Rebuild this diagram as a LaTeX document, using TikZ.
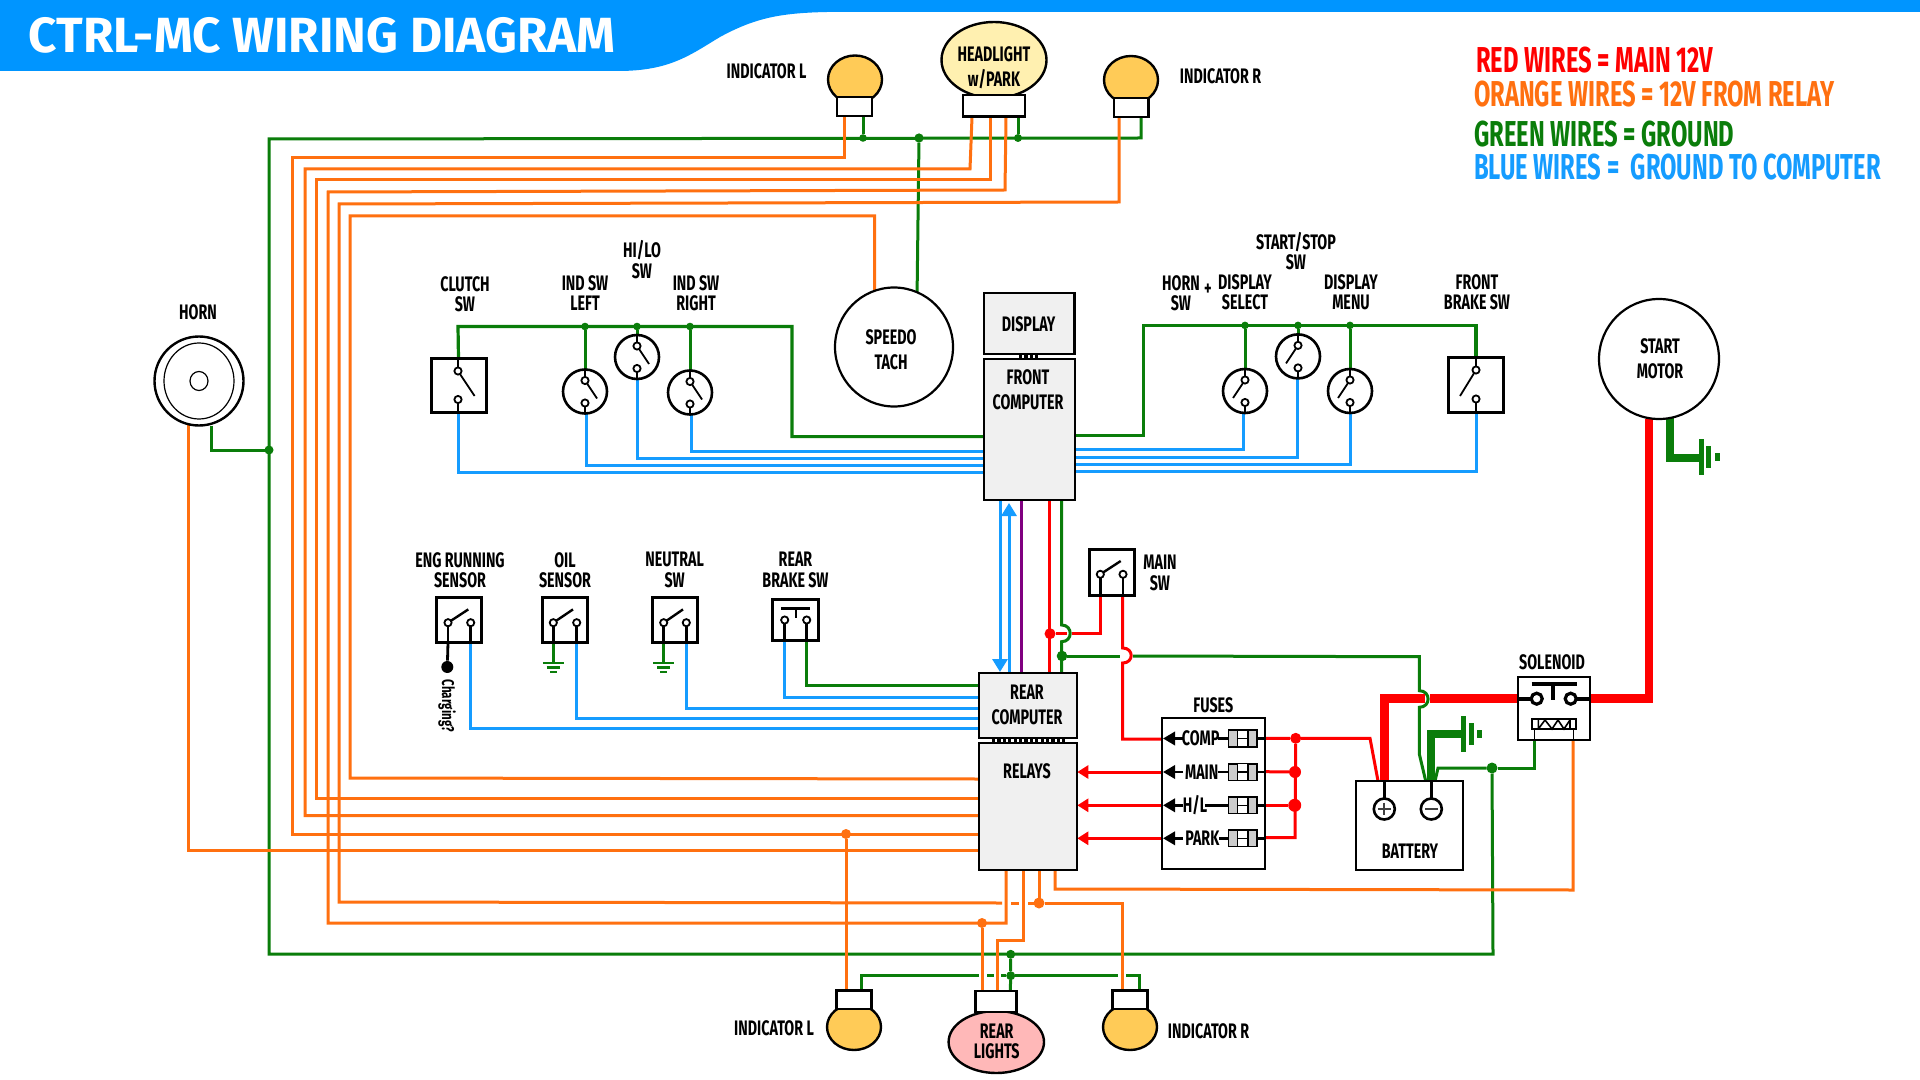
\documentclass[tikz,border=0pt]{standalone}
\usepackage{fontspec}
\setmainfont{Fira Sans}
\newfontfamily\din[FakeStretch=0.68]{Fira Sans}
\newfontfamily\dinT[FakeStretch=1.0]{Fira Sans}
\newfontfamily\dinL[FakeStretch=0.66]{Fira Sans}
\usetikzlibrary{shapes.geometric,arrows.meta,backgrounds}
\definecolor{cO}{HTML}{FF7010}
\definecolor{cG}{HTML}{0A7D0A}
\definecolor{cB}{HTML}{159CFF}
\definecolor{cR}{HTML}{FF0000}
\definecolor{cP}{HTML}{800080}
\definecolor{hdr}{HTML}{0095FF}
\definecolor{pan}{HTML}{F0F0F0}
\definecolor{bAmb}{HTML}{FFCB57}
\definecolor{bCrm}{HTML}{FFF0B0}
\definecolor{bPnk}{HTML}{FFB8B8}
\definecolor{fGry}{HTML}{CCCCCC}
\tikzset{
 wO/.style={draw=cO,line width=1.5pt,line join=miter},
 wOt/.style={draw=cO,line width=1.15pt},
 wG/.style={draw=cG,line width=1.5pt},
 wGk/.style={draw=cG,line width=3.6pt},
 wB/.style={draw=cB,line width=1.5pt},
 wR/.style={draw=cR,line width=1.5pt},
 wRk/.style={draw=cR,line width=4.4pt},
 wK/.style={draw=black,line width=1.4pt},
 gnd/.style={draw=cG,line width=2.5pt},
 gnds/.style={draw=cG,line width=1.3pt},
 bxk/.style={rectangle,draw=black,line width=1.5pt,inner sep=0,outer sep=0,fill=white},
 bxt/.style={rectangle,draw=black,line width=1.1pt,inner sep=0,outer sep=0,fill=white},
 bxp/.style={rectangle,draw=black,line width=1.1pt,inner sep=0,outer sep=0,fill=pan},
 skt/.style={rectangle,draw=black,line width=1.4pt,inner sep=0,outer sep=0,fill=white},
 bulb/.style={ellipse,draw=black,line width=1.2pt,inner sep=0,outer sep=0,fill=#1},
 ctc/.style={circle,draw=black,line width=.9pt,fill=white,inner sep=0,outer sep=0,minimum size=3.6pt},
 rnd/.style={circle,draw=black,line width=1.3pt,fill=white,inner sep=0,outer sep=0,minimum size=22pt},
 dt/.style={circle,fill=#1,inner sep=0,outer sep=0,minimum size=3.8pt},
 lbl/.style={font=\din\bfseries\fontsize{10.5}{10.25}\selectfont,align=center,inner sep=0,outer sep=0},
 lblw/.style={font=\din\bfseries\fontsize{10.5}{12.5}\selectfont,align=center,inner sep=0,outer sep=0},
 leg/.style={font=\dinL\bfseries\fontsize{18}{18}\selectfont,anchor=west,inner sep=0,outer sep=0},
}
\newcommand\bx[6]{\node[#6,minimum width={((#4)-(#2))*.5pt},minimum height={((#5)-(#3))*.5pt},anchor=north west] (#1) at (#2,#3) {};}
\newcommand\el[6]{\node[#6,minimum width={#4*1pt},minimum height={#5*1pt}] (#1) at (#2,#3) {};}
% round switch: name, cx, cy, lever dx
\newcommand\roundsw[4]{\node[rnd] (#1) at (#2,#3) {};
 \draw[black,line width=1.1pt] (#2,#3-22) -- (#2,#3-11) (#2,#3+11.5) -- (#2,#3+22);
 \draw[black,line width=.9pt] (#2,#3-11) -- (#2+#4,#3+7);
 \node[ctc] (#1a) at (#2,#3-11) {};\node[ctc] (#1b) at (#2,#3+11.5) {};}
% open box switch: name,x1,x2,y1,y2,cx1,cx2,cy,levx
\newcommand\opensw[9]{\bx{#1}{#2}{#4}{#3}{#5}{bxk}
 \draw[wK] (#6,#8) -- (#6,#5);\draw[wK] (#7,#8) -- (#7,#5);
 \draw[black,line width=1.2pt] (#6,#8) -- (#9,#8-13.3);
 \node[ctc] (#1a) at (#6,#8) {};\node[ctc] (#1b) at (#7,#8) {};}
% fuse row: name,y,label,label x,line start
\newcommand\fuserow[5]{\draw[black,line width=1.4pt,-{Triangle[length=6pt,width=6.6pt]}] (1183,#2) -- (1163,#2);
 \node[lbl] (#1t) at (#4,#2) {#3};
 \draw[black,line width=1.4pt] (#5,#2) -- (1228,#2);\draw[black,line width=1.4pt] (1256,#2) -- (1265,#2);
 \bx{#1}{1228.3}{#2-8.3}{1256.7}{#2+8.3}{rectangle,draw=black,line width=.8pt,inner sep=0,outer sep=0,fill=fGry}
 \fill[white] (1237.3,#2-7.8) rectangle (1247.7,#2+7.8);
 \draw[black,line width=.8pt] (1237.3,#2-8.3) -- (1237.3,#2+8.3) (1247.7,#2-8.3) -- (1247.7,#2+8.3) (1237.3,#2) -- (1247.7,#2);}
\newcommand\gndsym[2]{\draw[gnds] (#1-10.5,#2) -- (#1+10.5,#2) (#1-6.6,#2+4.7) -- (#1+6.6,#2+4.7) (#1-3.3,#2+9) -- (#1+3.3,#2+9);}
\begin{document}
\begin{tikzpicture}[x=0.5pt,y=-0.5pt]
\useasboundingbox (0,0) rectangle (1920,1080);
% header
\fill[hdr] (0,0) -- (1920,0) -- (1920,12) -- (827,12) .. controls (780,13) and (755,18) .. (720,37) .. controls (690,55) and (670,71) .. (618,71) -- (0,71) -- cycle;
\node[font=\dinT\bfseries\fontsize{24.7}{24.7}\selectfont,text=white,anchor=west,inner sep=0] (title) at (28,35.5) {CTRL-MC WIRING DIAGRAM};
% legend
\node[leg,text=cR] (l1) at (1476,60) {RED WIRES = MAIN 12V};
\node[leg,text=cO] (l2) at (1474,94) {ORANGE WIRES = 12V FROM RELAY};
\node[leg,text=cG] (l3) at (1474,134) {GREEN WIRES = GROUND};
\node[leg,text=cB] (l4) at (1474,167) {BLUE WIRES = \ GROUND TO COMPUTER};
% headlight + indicators top
\el{headl}{994}{60}{52.5}{38}{bulb=bCrm}
\bx{headS}{963}{95}{1025}{116.5}{skt}
\node[lblw] (headT) at (994,67.5) {HEADLIGHT\\w/PARK};
\el{iLb}{855}{79.5}{27}{24}{bulb=bAmb}
\bx{iLs}{837}{97}{872}{116}{skt}
\el{iRb}{1131}{80}{27}{24}{bulb=bAmb}
\bx{iRs}{1114}{98}{1148.5}{117}{skt}
\node[lbl] (iLt) at (766.5,71.5) {INDICATOR L};
\node[lbl] (iRt) at (1220.5,76) {INDICATOR R};
% horn
\el{horn}{199}{381}{44.5}{44.5}{ellipse,draw=black,line width=1.2pt,fill=white,inner sep=0,outer sep=0}
\el{horn2}{199}{381}{35}{38}{ellipse,draw=black,line width=.6pt,inner sep=0,outer sep=0}
\el{horn3}{199}{381}{9}{9.5}{ellipse,draw=black,line width=.6pt,inner sep=0,outer sep=0}
\node[lbl] (hornT) at (198,312) {HORN};
% speedo, motor
\el{speedo}{894}{347}{59}{59.5}{ellipse,draw=black,line width=1.1pt,fill=white,inner sep=0,outer sep=0}
\node[lblw] (speedoT) at (891,349.5) {SPEEDO\\TACH};
\el{motor}{1659}{359}{60}{60}{ellipse,draw=black,line width=1.1pt,fill=white,inner sep=0,outer sep=0}
\node[lblw] (motorT) at (1660,358.5) {START\\MOTOR};
% left switches
\bx{clutch}{431}{359}{486}{412.5}{bxk}
\draw[black,line width=1.1pt] (458,359) -- (458,371) (458,399.5) -- (458,412.5);
\draw[black,line width=.9pt] (458,371) -- (474.6,396);
\node[ctc] (clutcha) at (458,371) {};\node[ctc] (clutchb) at (458,399.5) {};
\roundsw{indl}{585}{391.5}{12}
\roundsw{hilo}{637}{357}{12}
\roundsw{indr}{690}{392.5}{12}
\node[lbl] (clutchT) at (465,294) {CLUTCH\\SW};
\node[lbl] (indlT) at (585,293) {IND SW\\LEFT};
\node[lbl] (hiloT) at (642,259.5) {HI/LO\\SW};
\node[lbl] (indrT) at (696,293) {IND SW\\RIGHT};
% right switches
\roundsw{ds}{1245}{391}{-12}
\roundsw{ss}{1298}{356.4}{-12}
\roundsw{dm}{1350}{391}{-12}
\bx{fb}{1448.7}{358}{1503.8}{412}{bxk}
\draw[black,line width=1.1pt] (1476,358) -- (1476,370) (1476,399) -- (1476,412);
\draw[black,line width=.9pt] (1476,370) -- (1460,396);
\node[ctc] (fba) at (1476,370) {};\node[ctc] (fbb) at (1476,399) {};
\node[lbl] (hornswT) at (1181,293) {HORN\\SW};
\node[lbl] (plusT) at (1208,290) {+};
\node[lbl] (dsT) at (1245,292) {DISPLAY\\SELECT};
\node[lbl] (ssT) at (1296,251) {START/STOP\\SW};
\node[lbl] (dmT) at (1351,292) {DISPLAY\\MENU};
\node[lbl] (fbT) at (1477,292) {FRONT\\BRAKE SW};
% computers
\draw[black,line width=2.4pt,dash pattern=on 1.6pt off 1.1pt] (1019,356.5) -- (1040,356.5);
\bx{disp}{984}{293}{1074.5}{354}{bxp}
\node[lbl] (dispT) at (1028.6,324) {DISPLAY};
\bx{front}{984}{359}{1075}{500}{bxp}
\node[lblw] (frontT) at (1028,390) {FRONT\\COMPUTER};
\draw[black,line width=2.4pt,dash pattern=on 1.6pt off 1.1pt] (992,740.8) -- (1065,740.8);
\bx{rear}{979}{673.3}{1077.3}{738.3}{bxp}
\node[lblw] (rearT) at (1027,704.5) {REAR\\COMPUTER};
\bx{relays}{979}{743.3}{1077.3}{870}{bxp}
\node[lbl] (relaysT) at (1027,771) {RELAYS};
% lower switches
\node[lbl] (engT) at (460,570) {ENG RUNNING\\SENSOR};
\opensw{eng}{436.7}{481.3}{597.7}{642.7}{448}{470.7}{622.7}{468.3}
\node[circle,fill=black,inner sep=0,minimum size=6pt] (engD) at (447.3,667) {};
\node[font=\din\bfseries\fontsize{8.5}{8.5}\selectfont,rotate=-90,inner sep=0] (engC) at (447,705.7) {Charging?};
\node[lbl] (oilT) at (565,570) {OIL\\SENSOR};
\opensw{oil}{542.3}{587}{597.7}{642.7}{553.3}{576.7}{622.7}{573}
\node[lbl] (neuT) at (674.7,570) {NEUTRAL\\SW};
\opensw{neu}{652.3}{697}{597.7}{642.7}{663.7}{686.3}{622.7}{683}
\node[lbl] (rbT) at (795.5,570) {REAR\\BRAKE SW};
\bx{rb}{772.3}{599.3}{818.7}{640.7}{bxk}
\draw[wK] (784.7,620) -- (784.7,640.7) (806.7,620) -- (806.7,640.7);
\draw[black,line width=1.2pt] (781,608.3) -- (810,608.3) (796,608.3) -- (796,618);
\node[ctc] (rba) at (784.7,620) {};\node[ctc] (rbb) at (806.7,620) {};
\opensw{msw}{1089}{1134}{549.3}{595}{1100.3}{1123}{574.3}{1120.7}
\node[lbl] (mswT) at (1160,573) {MAIN\\SW};
% fuses
\node[lbl] (fusesT) at (1213.3,705) {FUSES};
\bx{fuses}{1161.7}{717.7}{1265}{869.3}{bxt}
\fuserow{f1}{738.5}{COMP}{1200.7}{1217.7}
\fuserow{f2}{772}{MAIN}{1201.7}{1217.7}
\fuserow{f3}{805.3}{H/L}{1195}{1205}
\fuserow{f4}{838.3}{PARK}{1202.3}{1219}
% battery
\bx{batt}{1356}{781}{1462.7}{870}{bxt}
\draw[wK] (1384.3,781) -- (1384.3,798) (1431.3,781) -- (1431.3,798);
\node[circle,draw=black,line width=1.3pt,fill=white,inner sep=0,minimum size=10.5pt] (bp) at (1384.3,809) {};
\node[circle,draw=black,line width=1.3pt,fill=white,inner sep=0,minimum size=10.5pt] (bm) at (1431.3,809) {};
\draw[black!75,line width=1pt] (1378,809) -- (1390.6,809) (1384.3,802.7) -- (1384.3,815.3) (1425,809) -- (1437.6,809);
\node[lbl] (battT) at (1410,851.7) {BATTERY};
% solenoid
\node[lbl] (solT) at (1552,662.7) {SOLENOID};
\bx{sol}{1517.7}{677.3}{1590}{740}{bxt}
\draw[black,line width=2pt] (1517.7,698.7) -- (1531,698.7) (1576,698.7) -- (1590,698.7) (1531.7,684.3) -- (1576.7,684.3);
\draw[black,line width=2pt] (1553.3,684.3) -- (1553.3,700);
\node[circle,draw=black,line width=1.6pt,fill=white,inner sep=0,minimum size=5.5pt] (sa) at (1536.7,698.7) {};
\node[circle,draw=black,line width=1.6pt,fill=white,inner sep=0,minimum size=5.5pt] (sb) at (1570.7,698.7) {};
\bx{coil}{1531.7}{719}{1576}{729}{rectangle,draw=black,line width=.8pt,inner sep=0,outer sep=0,fill=white}
\draw[black,line width=.8pt] (1538.3,719) -- (1538.3,729) (1570,719) -- (1570,729) (1538.3,729) -- (1545,720) -- (1552,729) -- (1558,720) -- (1564,729) -- (1570,720);
\draw[black,line width=.8pt] (1534.3,729) -- (1534.3,740) (1573.3,729) -- (1573.3,740);
% rear lights
\el{iLrb}{854}{1027}{27}{23}{bulb=bAmb}
\bx{iLrs}{836.7}{990.7}{871.7}{1009}{skt}
\el{rlb}{996.3}{1042}{47.7}{31}{bulb=bPnk}
\bx{rls}{975.7}{991}{1016.7}{1012}{skt}
\node[lbl] (rlT) at (996.7,1041.5) {REAR\\LIGHTS};
\el{iRrb}{1130}{1027}{27}{23}{bulb=bAmb}
\bx{iRrs}{1112.7}{990.7}{1147.3}{1009}{skt}
\node[lbl] (iLrT) at (774,1028) {INDICATOR L};
\node[lbl] (iRrT) at (1208.5,1031.7) {INDICATOR R};
% junction dots
\node[dt=cG] (jg1) at (863,138) {};
\node[dt=cG,minimum size=4.6pt] (jg2) at (919,138) {};
\node[dt=cG,minimum size=4pt] (jg3) at (1018,138) {};
\node[dt=cG,minimum size=4.5pt] (jg4) at (269,450) {};
\node[dt=cG] (jg5) at (585,326.5) {};
\node[dt=cG] (jg6) at (637,326.5) {};
\node[dt=cG] (jg7) at (690,326.5) {};
\node[dt=cG] (jg8) at (1245,325.4) {};
\node[dt=cG] (jg9) at (1298,325.4) {};
\node[dt=cG] (jg10) at (1350,325.4) {};
\node[dt=cG,minimum size=5.3pt] (jg11) at (1062,656) {};
\node[dt=cG,minimum size=5.5pt] (jg12) at (1492,768) {};
\node[dt=cG,minimum size=4.5pt] (jg13) at (1010.7,954.3) {};
\node[dt=cG,minimum size=4.5pt] (jg14) at (1010.7,975.7) {};
\node[dt=cR,minimum size=5.5pt] (jr1) at (1050,633.7) {};
\node[dt=cR,minimum size=5.5pt] (jr2) at (1295.7,738.3) {};
\node[dt=cR,minimum size=6pt] (jr3) at (1295,772) {};
\node[dt=cR,minimum size=6.5pt] (jr4) at (1294.7,805.3) {};
\node[dt=cO,minimum size=5pt] (jo1) at (846,834) {};
\node[dt=cO,minimum size=5pt] (jo2) at (982,923) {};
\node[dt=cO,minimum size=5.5pt] (jo3) at (1039,903) {};
% ground symbols
\gndsym{553.3}{663}
\gndsym{663.7}{663}
\draw[gnd] (1701,439) -- (1701,474.5) (1708.5,446) -- (1708.5,467.6) (1717,453) -- (1717,460.7);
\draw[gnd] (1463,716) -- (1463,751.7) (1471.7,723.3) -- (1471.7,745) (1479.3,730) -- (1479.3,738.3);
\begin{scope}[on background layer]
\fill[white] (0,0) rectangle (1920,1080);
% green main bus
\draw[wG] (iRs.south -| 1141,0) -- (1141,138) -- (269,139) -- (269,954) -- (1493,954) -- (jg12);
\draw[wG] (iLs.south -| jg1) -- (jg1);
\draw[wG] (headS.south -| jg3) -- (jg3);
\draw[wG] (jg2) -- (917,300);
\draw[wG] (horn.south -| 211,0) -- (211,450) -- (jg4);
\draw[wG] (coil.south -| 1534,0) -- (1534,768) -- (jg12);
\draw[wG] (jg12) -- (1438,768) -- (1435,781);
% left switch green
\draw[wG,line width=1.6pt] (clutch.north) ++(0,0) -- (458,326.5) -- (792,326.5) -- (792,436.6) -- (front.west |- 0,436.6);
\draw[wG] (jg5) -- (indl.north);
\draw[wG] (jg6) -- (hilo.north);
\draw[wG] (jg7) -- (indr.north);
% right switch green
\draw[wG,line width=1.6pt] (front.east |- 0,435.6) -- (1143.7,435.6) -- (1143.7,325.4) -- (1476,325.4) -- (fb.north -| 1476,0);
\draw[wG] (jg8) -- (ds.north);
\draw[wG] (jg9) -- (ss.north);
\draw[wG] (jg10) -- (dm.north);
% blue front
\draw[wB] (458,412) -- (458,472) -- (front.west |- 0,472);
\draw[wB] (586,414) -- (586,465.5) -- (front.west |- 0,465.5);
\draw[wB] (637.5,379) -- (637.5,458) -- (front.west |- 0,458);
\draw[wB] (691,415) -- (691,451) -- (front.west |- 0,451);
\draw[wB] (1243.5,413) -- (1243.5,449.4) -- (front.east |- 0,449.4);
\draw[wB] (1297,378) -- (1297,457) -- (front.east |- 0,457);
\draw[wB] (1350,413) -- (1350,464.5) -- (front.east |- 0,464.5);
\draw[wB] (1476,412) -- (1476,471) -- (front.east |- 0,471);
% rear lights wiring
\draw[wG] (861.7,990.7) -- (861.7,975.7) -- (979,975.7);
\draw[wG] (987,975.7) -- (994,975.7);
\draw[wG] (1001,975.7) -- (jg14) -- (1118,975.7);
\draw[wG] (1126,975.7) -- (1139.3,975.7) -- (1139.3,990.7);
\draw[wG] (jg13) -- (jg14) -- (1010.3,991);
% orange
\draw[wO] (844,116) -- (844,158) -- (292,158) -- (292,834) -- (relays.west |- 0,834);
\draw[wO] (jo1) -- (846,990.7);
\draw[wO] (972,117) -- (970,169) -- (305,169) -- (305,815.5) -- (relays.west |- 0,815.5);
\draw[wO] (990,117) -- (990,180) -- (316,180) -- (316,798) -- (relays.west |- 0,798);
\draw[wO] (1006,117) -- (1005,190) -- (328,192) -- (328,923) -- (1006,923) -- (1006,870);
\draw[wO] (jo2) -- (982,991);
\draw[wO] (1119,117) -- (1119,202) -- (339,204) -- (339,902) -- (1002,903);
\draw[wO] (1011,903) -- (1019,903);
\draw[wO] (1028,903) -- (jo3) -- (1122,903) -- (1122,990.7);
\draw[wO] (1039,870) -- (jo3);
\draw[wO] (874.5,290) -- (874.5,216) -- (350,216) -- (350,778) -- (relays.west |- 0,779);
\draw[wO] (1023,870) -- (1023,940) -- (997,940) -- (997,991);
\draw[wO] (1055,870) -- (1055,889) -- (1573,890) -- (1573,740);
\draw[wOt] (188.6,420) -- (188.6,850.6) -- (relays.west |- 0,850.6);
% computers links
\draw[wB,-{Triangle[length=6.5pt,width=7.5pt]}] (1000,500) -- (1000,672);
\draw[wB,-{Triangle[length=6.5pt,width=7.5pt]}] (1009,673) -- (1009,503);
\draw[cP,line width=1.5pt] (1021.7,500) -- (1021.7,673);
\draw[wR] (1049.7,500) -- (1049.7,673);
\draw[wG] (1061.7,500) -- (1061.7,625) .. controls (1073,625) and (1073,641.7) .. (1061.7,641.7) -- (1061.7,673);
\draw[wR] (jr1) -- (1067,633.7);
\draw[wR] (1071.7,633.7) -- (1100.5,633.7) -- (1100.5,595);
\draw[wR] (1122.7,595) -- (1122.7,648) .. controls (1134,648) and (1134,663) .. (1122.7,663) -- (1122.7,739) -- (fuses.west |- 0,739);
\draw[wG] (jg11) -- (1120,656);
\draw[wG] (1133,656) -- (1419.3,656.7) -- (1419.3,690.7) .. controls (1431,690.7) and (1431,707.3) .. (1419.3,707.3) -- (1419.3,754) -- (1425.7,781);
% rear computer side wires
\draw[wG] (806.7,640.7) -- (806.7,685.3) -- (rear.west |- 0,685.3);
\draw[wB] (784.7,640.7) -- (784.7,697.3) -- (rear.west |- 0,697.3);
\draw[wB] (686.3,642.7) -- (686.3,708) -- (rear.west |- 0,708);
\draw[wB] (576.7,642.7) -- (576.7,718.3) -- (rear.west |- 0,718.3);
\draw[wB] (470.7,642.7) -- (470.7,728.3) -- (rear.west |- 0,728.3);
\draw[black,line width=1.4pt] (448,642.7) -- (engD);
\draw[wG] (553.3,642.7) -- (553.3,663);
\draw[wG] (663.7,642.7) -- (663.7,663);
% fuses red
\draw[wR,-{Triangle[length=5.5pt,width=6.5pt]}] (fuses.west |- 0,772) -- (relays.east |- 0,772);
\draw[wR,-{Triangle[length=5.5pt,width=6.5pt]}] (fuses.west |- 0,805.3) -- (relays.east |- 0,805.3);
\draw[wR,-{Triangle[length=5.5pt,width=6.5pt]}] (fuses.west |- 0,838.3) -- (relays.east |- 0,838.3);
\draw[wR] (fuses.east |- 0,738.3) -- (jr2) -- (1370,738.3) -- (1378,781);
\draw[wR] (fuses.east |- 0,771.7) -- (jr3);
\draw[wR] (fuses.east |- 0,805.3) -- (jr4);
\draw[wR] (fuses.east |- 0,837.5) -- (1295,837.5) -- (jr2);
% power
\draw[wRk] (sol.west |- 0,698.7) -- (1430,698.7);
\draw[wRk] (1425,698.7) -- (1384.5,698.7) -- (1384.5,781);
\draw[wRk] (sol.east |- 0,698.7) -- (1649,698.7) -- (1649,419);
\draw[wGk] (1670,417) -- (1670,458) -- (1701,458);
\draw[wGk] (1431,781) -- (1431,734) -- (1463,734);
\end{scope}
\end{tikzpicture}
\end{document}
